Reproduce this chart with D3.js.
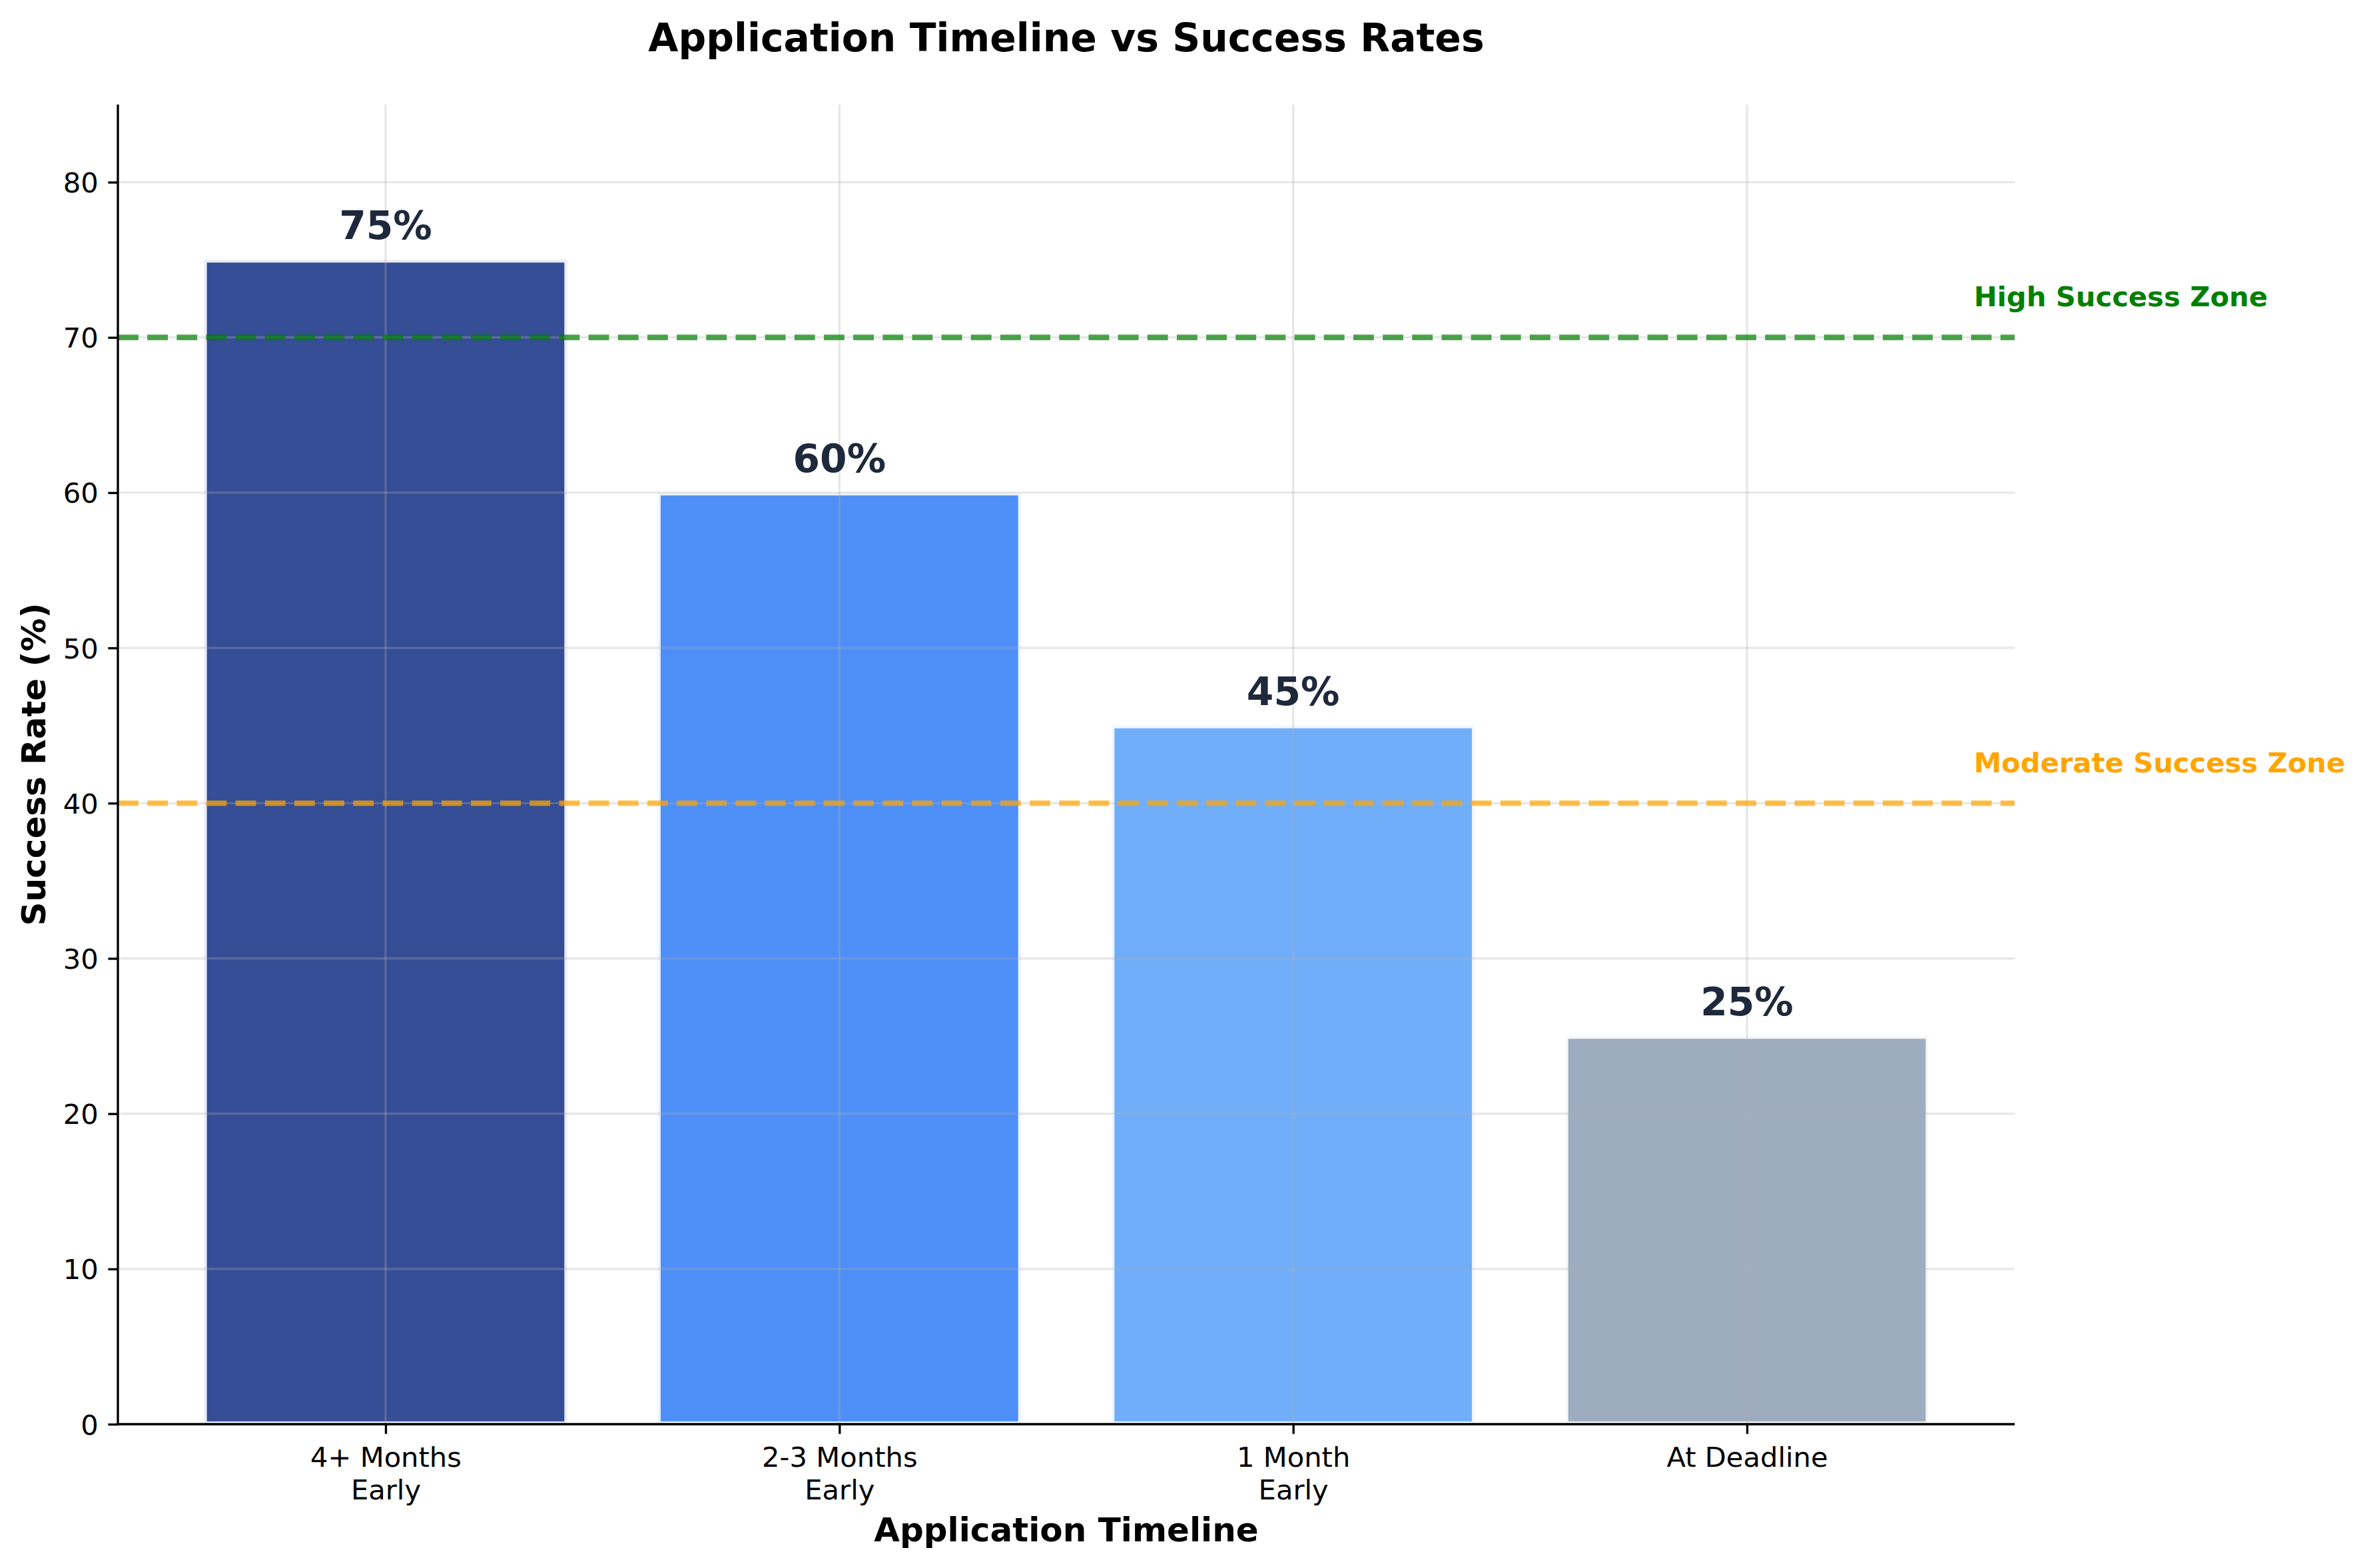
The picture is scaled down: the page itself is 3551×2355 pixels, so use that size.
<!DOCTYPE html>
<html>
<head>
<meta charset="utf-8">
<script src="https://cdn.jsdelivr.net/npm/d3@7"></script>
<style>
  body { margin: 0; background: #ffffff; }
  svg { display: block; font-family: "DejaVu Sans", sans-serif; }
</style>
</head>
<body>
<svg id="chart" width="3551" height="2355"></svg>
<script>
// ---- data ----
const categories = ["4+ Months\nEarly", "2-3 Months\nEarly", "1 Month\nEarly", "At Deadline"];
const successRates = [75, 60, 45, 25];
const barColors = ["#1e3a8a", "#3b82f6", "#60a5fa", "#94a3b8"];
const yTicks = [0, 10, 20, 30, 40, 50, 60, 70, 80];
const zoneLines = [
  { value: 70, label: "High Success Zone", line: "#008000", text: "#008000" },
  { value: 40, label: "Moderate Success Zone", line: "#ffa500", text: "#ffa500" }
];
const titleText = "Application Timeline vs Success Rates";
const xLabelText = "Application Timeline";
const yLabelText = "Success Rate (%)";

// ---- layout ----
const W = 3551, H = 2355;
const plot = { left: 177, right: 3025, top: 157, bottom: 2139 };
const pt = 300 / 72;

const svg = d3.select("#chart");

const x = d3.scaleLinear().domain([-0.59, 3.59]).range([plot.left, plot.right]);
const y = d3.scaleLinear().domain([0, 85]).range([plot.bottom, plot.top]);
const barW = x(0.8) - x(0);

// bars
svg.append("g").selectAll("rect").data(successRates).join("rect")
  .attr("x", (d, i) => x(i - 0.4))
  .attr("y", d => y(d))
  .attr("width", barW)
  .attr("height", d => y(0) - y(d))
  .attr("fill", (d, i) => barColors[i])
  .attr("fill-opacity", 0.9)
  .attr("stroke", "#ffffff")
  .attr("stroke-opacity", 0.9)
  .attr("stroke-width", 2 * pt);

// grid (drawn above bars)
const grid = svg.append("g").attr("stroke", "#b0b0b0").attr("stroke-opacity", 0.3).attr("stroke-width", 0.8 * pt);
grid.selectAll("line.h").data(yTicks).join("line").attr("class", "h")
  .attr("x1", plot.left).attr("x2", plot.right)
  .attr("y1", d => y(d)).attr("y2", d => y(d));
grid.selectAll("line.v").data(categories.map((c, i) => i)).join("line").attr("class", "v")
  .attr("x1", d => x(d)).attr("x2", d => x(d))
  .attr("y1", plot.top).attr("y2", plot.bottom);

// zone lines
svg.append("g").selectAll("line").data(zoneLines).join("line")
  .attr("x1", plot.left).attr("x2", plot.right)
  .attr("y1", d => y(d.value)).attr("y2", d => y(d.value))
  .attr("stroke", d => d.line)
  .attr("stroke-opacity", 0.7)
  .attr("stroke-width", 2 * pt)
  .attr("stroke-dasharray", `${7.4 * pt} ${3.2 * pt}`);

svg.append("g").selectAll("text").data(zoneLines).join("text")
  .attr("x", x(3.5))
  .attr("y", d => y(d.value + 2))
  .attr("fill", d => d.text)
  .attr("font-size", 10 * pt)
  .attr("font-weight", "bold")
  .text(d => d.label);

// value labels
svg.append("g").selectAll("text").data(successRates).join("text")
  .attr("x", (d, i) => x(i))
  .attr("y", d => y(d) - 31)
  .attr("text-anchor", "middle")
  .attr("fill", "#1e293b")
  .attr("font-size", 14 * pt)
  .attr("font-weight", "bold")
  .text(d => d + "%");

// y axis
const yAxis = d3.axisLeft(y).tickValues(yTicks).tickSize(3.5 * pt).tickPadding(3.5 * pt).tickFormat(d3.format("d"));
const gy = svg.append("g").attr("transform", `translate(${plot.left},0)`).call(yAxis);
gy.select(".domain").remove();
gy.selectAll(".tick line").attr("stroke", "#000").attr("stroke-width", 0.8 * pt);
gy.selectAll(".tick text").attr("font-size", 10 * pt).attr("font-family", "DejaVu Sans").attr("fill", "#000").attr("dy", "0.36em");

// x axis
const xAxis = d3.axisBottom(x).tickValues(categories.map((c, i) => i)).tickSize(3.5 * pt).tickPadding(3.5 * pt).tickFormat("");
const gx = svg.append("g").attr("transform", `translate(0,${plot.bottom})`).call(xAxis);
gx.select(".domain").remove();
gx.selectAll(".tick line").attr("stroke", "#000").attr("stroke-width", 0.8 * pt);
gx.selectAll(".tick text").remove();
gx.selectAll(".tick").each(function (d) {
  const lines = categories[d].split("\n");
  const t = d3.select(this).append("text")
    .attr("text-anchor", "middle")
    .attr("font-size", 10 * pt)
    .attr("font-family", "DejaVu Sans")
    .attr("fill", "#000");
  lines.forEach((ln, k) => {
    t.append("tspan").attr("x", 0).attr("y", 64 + k * 49).text(ln);
  });
});

// spines
svg.append("line").attr("x1", plot.left).attr("x2", plot.left).attr("y1", plot.top).attr("y2", plot.bottom + 1.6)
  .attr("stroke", "#000").attr("stroke-width", 0.8 * pt);
svg.append("line").attr("x1", plot.left - 1.6).attr("x2", plot.right).attr("y1", plot.bottom).attr("y2", plot.bottom)
  .attr("stroke", "#000").attr("stroke-width", 0.8 * pt);

// titles
svg.append("text").attr("x", (plot.left + plot.right) / 2).attr("y", 77)
  .attr("text-anchor", "middle").attr("font-size", 14 * pt).attr("font-weight", "bold").attr("fill", "#000")
  .text(titleText);
svg.append("text").attr("x", (plot.left + plot.right) / 2).attr("y", 2315)
  .attr("text-anchor", "middle").attr("font-size", 12 * pt).attr("font-weight", "bold").attr("fill", "#000")
  .text(xLabelText);
svg.append("text").attr("transform", `translate(68,${(plot.top + plot.bottom) / 2}) rotate(-90)`)
  .attr("text-anchor", "middle").attr("font-size", 12 * pt).attr("font-weight", "bold").attr("fill", "#000")
  .text(yLabelText);
</script>
</body>
</html>
